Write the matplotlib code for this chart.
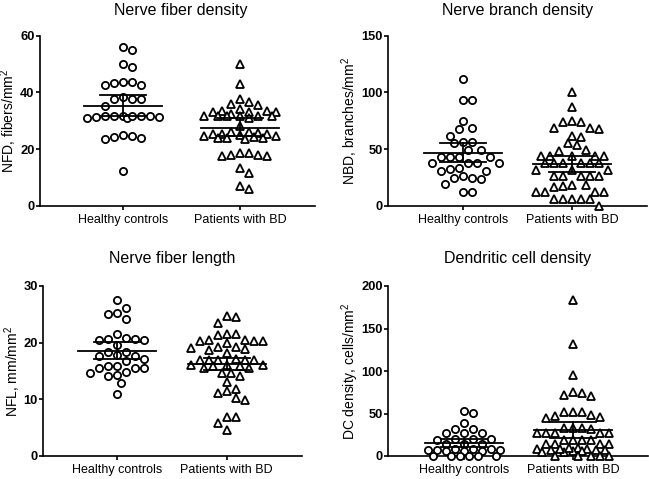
import numpy as np
import matplotlib
matplotlib.use("Agg")
import matplotlib.pyplot as plt

plt.rcParams['font.family'] = ['Liberation Sans', 'DejaVu Sans']
plt.rcParams['mathtext.fontset'] = 'custom'
plt.rcParams['mathtext.rm'] = 'Liberation Sans'
plt.rcParams['mathtext.it'] = 'Liberation Sans:italic'
plt.rcParams['mathtext.bf'] = 'Liberation Sans:bold'

groups = ["Healthy controls", "Patients with BD"]
titles = ["Nerve fiber density", "Nerve branch density", "Nerve fiber length", "Dendritic cell density"]
ylabels = ["NFD, fibers/mm$^2$", "NBD, branches/mm$^2$", "NFL, mm/mm$^2$", "DC density, cells/mm$^2$"]
ymax = [60, 150, 30, 200]
yticks = [[0, 20, 40, 60], [0, 50, 100, 150], [0, 10, 20, 30], [0, 50, 100, 150, 200]]

nfd_hc = [56, 55, 50, 48.8, 43.7, 43.2, 42.6, 42.6, 43.7, 37.5, 37.5, 37.5, 38.4, 35.3,
          31.8, 31.5, 31.5, 31.2, 31.0, 31.0, 31.2, 31.5, 31.5, 31.8,
          24.6, 24.0, 23.6, 24.2, 25.0, 12.4]
nfd_bd = [50, 43, 37.5, 36, 36.5, 35.5,
          34, 33.5, 33, 33.5, 33, 33, 32.5, 31.8, 31.5, 31.5, 31, 31.5, 31.8, 31.5,
          28.2, 26, 25.5, 25.5, 25, 25.5, 25.8, 26, 24.5, 24, 23.8, 23.5, 24, 24.2, 24.5,
          18.5, 18, 17.5, 17.5, 18, 18.5, 13.2, 11.5, 7, 6]
nbd_hc = [112, 93, 93, 75, 68.5, 68, 62, 56, 56.5, 55, 49.5, 49,
          43.5, 43.5, 43.5, 43.5, 37.5, 37.5, 37.5, 37.5, 33, 31, 31, 32.5,
          26, 24, 24.5, 24.5, 19, 12.5, 12.5]
nbd_bd = [100, 87, 74, 69, 67.7, 69, 74, 75, 61.8, 61, 55, 53.6, 49, 48.6,
          44, 44, 44, 44, 44, 37.5, 37.5, 37.5, 37.5, 37.5, 37.5, 31.6, 31.6, 31.6,
          26, 26, 26, 26, 26, 17.6, 18.5, 18.5, 17, 12.6, 12.6, 12.6, 12.6,
          6.2, 5.9, 5.9, 6, 6.2, 0]
nfl_hc = [27.5, 26.2, 25.3, 25.1, 24.2, 21.6, 20.6, 20.4, 20.5, 20.6, 20.9, 19.6,
          18.4, 18.4, 17.6, 17.2, 17.6, 17.9, 16.8, 15.6, 15.6, 15.9, 15.9, 15.6,
          14.1, 14.6, 14.3, 14.9, 12.8, 10.9]
nfl_bd = [24.7, 23.5, 24.6, 21.6, 21.4, 21.5, 20.5, 20.3, 20.3, 20.3, 20.5, 20.0,
          19.2, 18.8, 18.7, 19.1, 19.2, 18.2, 17.1, 17.0, 17.0, 17.0, 17.0, 17.0,
          15.6, 15.8, 16.0, 16.0, 16.0, 15.8, 15.6, 14.7, 14.1, 14.6, 13.1,
          11.8, 11.4, 11.1, 9.9, 10.2, 6.8, 6.8, 5.8, 4.6]
dc_hc = [53, 51, 39, 32, 31.5, 27, 26.5, 26.5, 20, 19, 20, 20, 14, 14, 14,
         8, 7, 6, 8, 7, 6, 8, 7, 6, 0, 0, 0, 0, 0, 0]
dc_bd = [183.5, 131.8, 95.3, 73.7, 70.6, 71.4, 75.7, 52.2, 48.2, 46.3, 44.3, 47.5, 52.2, 52.2,
         32.5, 31.8, 32.5, 32.5, 26.7, 26.7, 26.7, 26.7, 26.7, 18.8, 18.8, 18.8, 18.8,
         14, 14, 14, 14, 9, 8, 7, 6, 5, 9, 8, 7, 6, 5, 8, 7, 0, 0, 0, 0, 0]

# mean and 95% CI (lower, upper)
means = [[35.3, 27.5], [46.9, 36.9], [18.6, 16.2], [15.7, 30.6]]
ci_lo = [[31.5, 24.5], [39.0, 30.0], [17.1, 15.2], [11.0, 20.8]]
ci_hi = [[39.1, 30.8], [55.7, 43.8], [20.2, 17.3], [20.0, 40.4]]

data = [(nfd_hc, nfd_bd), (nbd_hc, nbd_bd), (nfl_hc, nfl_bd), (dc_hc, dc_bd)]

W, H = 649, 479
fig = plt.figure(figsize=(W / 100, H / 100), dpi=100)

# axes boxes in pixels: left, right, top, bottom ; tick pixel positions
boxes = [(40, 315, 35.5, 206, 122.7, 240.0),
         (388.3, 646.7, 35.5, 206, 463.3, 572.3),
         (43.3, 301.7, 286, 456, 116.7, 226.7),
         (388.3, 647.5, 286, 456, 464.3, 573.3)]
title_pos = [(181, 10), (518, 10), (172, 258), (518, 258)]
ylab_x = [9, 350, 12.5, 350]


def swarm_offsets(ax, x0, vals, d, wmax):
    tr = ax.transData
    sx = tr.transform((1, 0))[0] - tr.transform((0, 0))[0]
    ys = np.array([tr.transform((x0, v))[1] for v in vals])
    order = np.argsort(-np.asarray(vals), kind="stable")
    placed_x, placed_y = [], []
    offs = np.zeros(len(vals))
    step = d / 2.0
    kmax = int(wmax // step)
    cands = [0.0]
    for k in range(1, kmax + 1):
        cands += [k * step, -k * step]
    for i in order:
        y = ys[i]
        best = None
        bestd = -1
        bestc = 0.0
        for c in cands:
            if placed_x:
                dist = np.min(np.hypot(np.array(placed_x) - c, np.array(placed_y) - y))
            else:
                dist = 1e9
            if dist >= d * 0.98:
                best = c
                break
            if dist > bestd:
                bestd = dist
                bestc = c
        if best is None:
            best = bestc
        placed_x.append(best)
        placed_y.append(y)
        offs[i] = best / sx
    return offs


for p in range(4):
    l, r, t, b, t0, t1 = boxes[p]
    ax = fig.add_axes([l / W, 1 - b / H, (r - l) / W, (b - t) / H])
    sc = t1 - t0
    ax.set_xlim((l - t0) / sc, (r - t0) / sc)
    ax.set_ylim(0, ymax[p])
    for s in ["top", "right"]:
        ax.spines[s].set_visible(False)
    for s in ["left", "bottom"]:
        ax.spines[s].set_linewidth(1.2)
    ax.set_xticks([0, 1])
    ax.set_xticklabels(groups, fontsize=9)
    ax.set_yticks(yticks[p])
    ax.set_yticklabels([str(v) for v in yticks[p]], fontsize=9.3, fontweight="bold")
    ax.tick_params(axis="both", direction="out", length=3, width=1.2, pad=2.5)
    ax.tick_params(axis="y", pad=1.0)

    for g in range(2):
        vals = data[p][g]
        offs = swarm_offsets(ax, g, vals, 9.0, 36)
        mk = "o" if g == 0 else "^"
        ms = 5.2 if g == 0 else 6.0
        ax.plot(g + offs, vals, linestyle="none", marker=mk, ms=ms,
                mfc="white", mec="black", mew=1.3, clip_on=False, zorder=3)
        mhw = 39 / sc
        chw = 23 / sc
        ax.plot([g - mhw, g + mhw], [means[p][g]] * 2, color="black", lw=1.3, zorder=4)
        ax.plot([g, g], [ci_lo[p][g], ci_hi[p][g]], color="black", lw=1.3, zorder=4)
        ax.plot([g - chw, g + chw], [ci_lo[p][g]] * 2, color="black", lw=1.3, zorder=4)
        ax.plot([g - chw, g + chw], [ci_hi[p][g]] * 2, color="black", lw=1.3, zorder=4)

    fig.text(title_pos[p][0] / W, 1 - title_pos[p][1] / H, titles[p], fontsize=11.5,
             ha="center", va="center")
    fig.text(ylab_x[p] / W, 1 - ((t + b) / 2) / H, ylabels[p], fontsize=10.0,
             rotation=90, ha="center", va="center")

fig.savefig("out.png", dpi=100)
